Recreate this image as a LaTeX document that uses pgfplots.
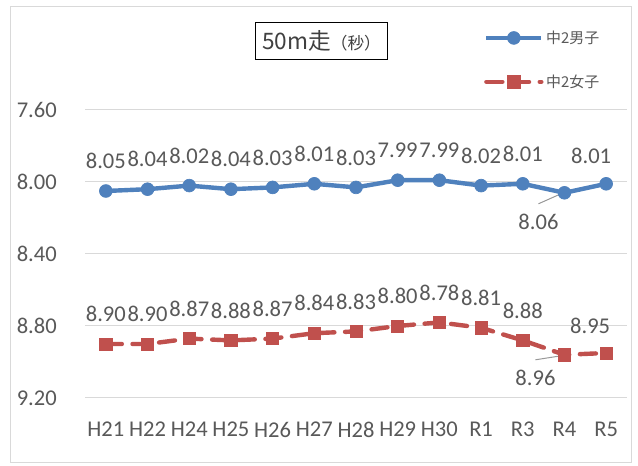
\documentclass[border=0pt]{standalone}
\usepackage{fontspec}
\setmainfont{Carlito}
\newfontfamily\jp{Noto Sans CJK JP}
\usepackage{pgfplots}
\pgfplotsset{compat=1.18}
\usepackage{pgfplotstable}
\definecolor{mblue}{HTML}{4F81BD}
\definecolor{mred}{HTML}{C0504D}
\definecolor{txt}{HTML}{595959}
\definecolor{gridc}{HTML}{D9D9D9}

\pgfplotstableread{
x y dx up
0 8.05 0 30
1 8.04 0 30
2 8.02 0 30
3 8.04 0 30
4 8.03 0 30
5 8.01 0 30
6 8.03 0 30
7 7.99 0 30
8 7.99 0 30
9 8.02 0 30
10 8.01 0 30
11 8.06 -26 -29
12 8.01 -15 28
}\boys

\pgfplotstableread{
x y dx up
0 8.90 0 30
1 8.90 0 30
2 8.87 0 30
3 8.88 0 30
4 8.87 0 30
5 8.84 0 30
6 8.83 0 30
7 8.80 0 30
8 8.78 0 30
9 8.81 0 30
10 8.88 0 30
11 8.96 -29 -23
12 8.95 -16 27
}\girls

\begin{document}
\begin{tikzpicture}
\begin{scope}[x=0.75pt,y=0.75pt]
\useasboundingbox (0,0) rectangle (638,466);
\draw[gridc, line width=0.75pt, fill=white] (10.5,3.5) rectangle (631,459.5);
\end{scope}
\begin{axis}[
  at={(63.75pt,51pt)}, anchor=south west,
  scale only axis, width=406.5pt, height=216pt,
  xmin=-0.5, xmax=12.5, ymin=7.6, ymax=9.2, y dir=reverse,
  xtick={0,...,12},
  xticklabels={H21,H22,H24,H25,H26,H27,H28,H29,H30,R1,R3,R4,R5},
  ytick={7.6,8.0,8.4,8.8,9.2},
  /pgf/number format/assume math mode=true,
  ymajorgrids, grid style={gridc, line width=0.75pt},
  axis line style={draw=none}, major tick length=0pt,
  tick label style={font=\fontsize{16.9}{20}\selectfont, text=txt},
  yticklabel style={inner sep=0pt, xshift=-21pt, /pgf/number format/fixed, /pgf/number format/fixed zerofill, /pgf/number format/precision=2},
  xticklabel style={inner sep=0pt, yshift=-17.8pt},
  clip=false,
  legend style={at={(0.736,1.174)}, anchor=west, draw=none, fill=none,
    inner sep=0pt, row sep=18pt, font=\jp\fontsize{11.2}{13}\selectfont,
    text=txt, nodes={inner sep=2pt}},
  legend cell align=left,
  legend image code/.code={\draw[mark repeat=2, mark phase=2] plot coordinates {(0pt,0pt)(20.6pt,0pt)(41.2pt,0pt)};},
  nodes near coords={\pgfmathprintnumber[fixed,fixed zerofill,precision=2]{\pgfplotspointmeta}},
  point meta=y,
  visualization depends on={\thisrow{dx}\as\dx},
  visualization depends on={\thisrow{up}\as\up},
  every node near coord/.append style={anchor=center, inner sep=0pt,
    font=\fontsize{16.9}{20}\selectfont, text=txt,
    xshift={\dx*0.75pt}, yshift={\up*0.75pt}},
]
\draw[gray!80, line width=0.75pt] ([shift={(-19.5pt,-8.25pt)}]axis cs:11,8.06) -- ([shift={(-1pt,0pt)}]axis cs:11,8.06);
\draw[gray!80, line width=0.75pt] ([shift={(-21.75pt,-3.75pt)}]axis cs:11,8.96) -- ([shift={(-1pt,-0.5pt)}]axis cs:11,8.96);
\addplot[mblue, line width=3.3pt, mark=*, mark size=4.8pt, mark options={solid, fill=mblue, line width=0.5pt}]
  table[x=x, y=y] {\boys};
\addlegendentry{中2男子}
\addplot[mred, line width=3.3pt, line cap=round, dash pattern=on 12pt off 8pt, mark=square*, mark size=4.6pt, mark options={solid, fill=mred, line width=0.5pt}]
  table[x=x, y=y] {\girls};
\addlegendentry{中2女子}
\end{axis}
\begin{scope}[x=0.75pt,y=0.75pt]
\node[draw=black, line width=0.75pt, minimum width=99.5pt, minimum height=27.75pt, inner sep=0pt, text=black!75] at (321.5,425)
  {{\jp\fontsize{17}{20}\selectfont 50m走}{\jp\fontsize{12.5}{15}\selectfont（秒）}};
\end{scope}
\end{tikzpicture}
\end{document}
